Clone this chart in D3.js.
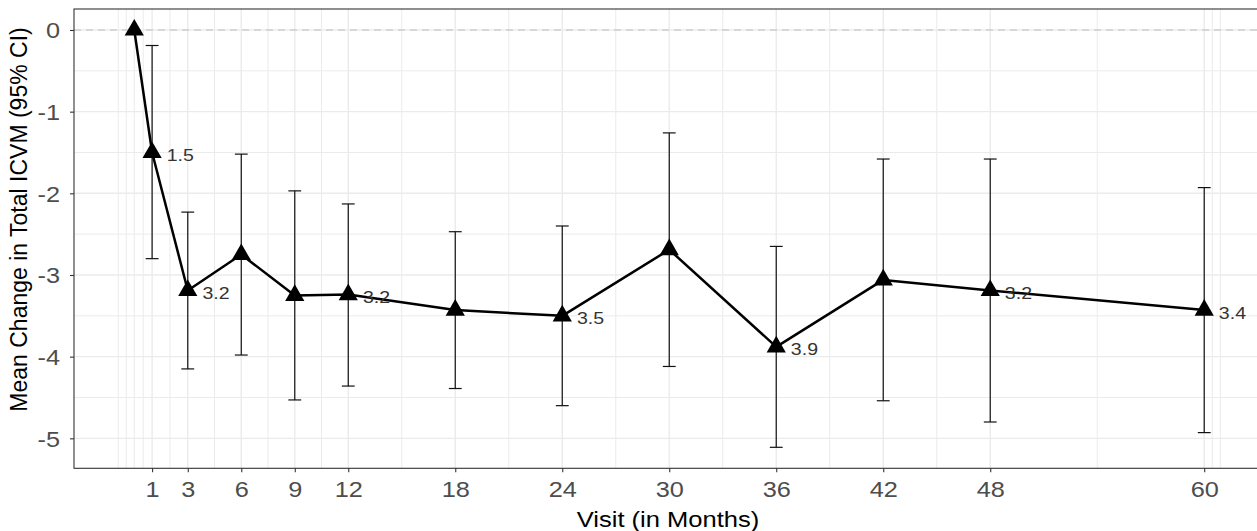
<!DOCTYPE html>
<html>
<head>
<meta charset="utf-8">
<script src="https://cdn.jsdelivr.net/npm/d3@7"></script>
<style>
  html, body { margin: 0; padding: 0; background: #fff; }
  svg { display: block; }
  text { font-family: "Liberation Sans", Arial, sans-serif; }
</style>
</head>
<body>
<svg id="chart" width="1257" height="531"></svg>
<script>
// ---- data ----
const months = [0, 1, 3, 6, 9, 12, 18, 24, 30, 36, 42, 48, 60];
const means  = [0, -1.50, -3.19, -2.75, -3.25, -3.24, -3.43, -3.50, -2.69, -3.88, -3.06, -3.19, -3.43];
const lower  = [0, -2.80, -4.15, -3.98, -4.53, -4.36, -4.39, -4.60, -4.12, -5.11, -4.54, -4.80, -4.93];
const upper  = [0, -0.19, -2.23, -1.52, -1.97, -2.13, -2.47, -2.40, -1.26, -2.65, -1.58, -1.58, -1.93];
const labels = ["", "1.5", "3.2", "", "", "3.2", "", "3.5", "", "3.9", "", "3.2", "3.4"];

const xTicks = [1, 3, 6, 9, 12, 18, 24, 30, 36, 42, 48, 60];
const xMinor = [-0.9, -0.45, 0, 0.5, 2, 4.5, 7.5, 10.5, 15, 21, 27, 33, 39, 45, 54, 60.45, 60.9];
const yTicks = [0, -1, -2, -3, -4, -5];
const yMinor = [-0.5, -1.5, -2.5, -3.5, -4.5];
const xTitle = "Visit (in Months)";
const yTitle = "Mean Change in Total ICVM (95% CI)";

const data = months.map((m, i) => ({ m, mean: means[i], lo: lower[i], hi: upper[i], label: labels[i] }));

// ---- layout ----
const panel = { left: 74, top: 9, right: 1262, bottom: 468.3 };
const svg = d3.select("#chart");
const stretch = 1.15;          // horizontal glyph widening seen in reference text
const capHalf = 0.36;          // error bar cap half-width (months)
const labelNudge = 0.82;       // label x offset (months)

const x = d3.scaleLinear().domain([-3.38, 63.24]).range([panel.left, panel.right]);
const y = d3.scaleLinear().domain([-5.367, 0.257]).range([panel.bottom, panel.top]);

svg.append("rect")
  .attr("x", panel.left).attr("y", panel.top)
  .attr("width", panel.right - panel.left).attr("height", panel.bottom - panel.top)
  .attr("fill", "#fff");

const grid = svg.append("g");
grid.selectAll("line.xmin").data(xMinor).join("line")
  .attr("class", "xmin")
  .attr("x1", d => x(d)).attr("x2", d => x(d))
  .attr("y1", panel.top).attr("y2", panel.bottom)
  .attr("stroke", "#EBEBEB").attr("stroke-width", 1);
grid.selectAll("line.ymin").data(yMinor).join("line")
  .attr("class", "ymin")
  .attr("x1", panel.left).attr("x2", panel.right)
  .attr("y1", d => y(d)).attr("y2", d => y(d))
  .attr("stroke", "#EBEBEB").attr("stroke-width", 1);
grid.selectAll("line.xmaj").data(xTicks).join("line")
  .attr("class", "xmaj")
  .attr("x1", d => x(d)).attr("x2", d => x(d))
  .attr("y1", panel.top).attr("y2", panel.bottom)
  .attr("stroke", "#EBEBEB").attr("stroke-width", 1.4);
grid.selectAll("line.ymaj").data(yTicks).join("line")
  .attr("class", "ymaj")
  .attr("x1", panel.left).attr("x2", panel.right)
  .attr("y1", d => y(d)).attr("y2", d => y(d))
  .attr("stroke", "#EBEBEB").attr("stroke-width", 1.4);

svg.append("line")
  .attr("x1", panel.left).attr("x2", panel.right)
  .attr("y1", y(0)).attr("y2", y(0))
  .attr("stroke", "#BDBDBD").attr("stroke-width", 1)
  .attr("stroke-dasharray", "7,5");

const eb = svg.append("g").attr("stroke", "#111").attr("stroke-width", 1.2).attr("fill", "none");
const ebData = data.filter(d => d.lo !== d.hi);
eb.selectAll("line.v").data(ebData).join("line")
  .attr("class", "v")
  .attr("x1", d => x(d.m)).attr("x2", d => x(d.m))
  .attr("y1", d => y(d.hi)).attr("y2", d => y(d.lo));
eb.selectAll("line.t").data(ebData).join("line")
  .attr("class", "t")
  .attr("x1", d => x(d.m - capHalf)).attr("x2", d => x(d.m + capHalf))
  .attr("y1", d => y(d.hi)).attr("y2", d => y(d.hi));
eb.selectAll("line.b").data(ebData).join("line")
  .attr("class", "b")
  .attr("x1", d => x(d.m - capHalf)).attr("x2", d => x(d.m + capHalf))
  .attr("y1", d => y(d.lo)).attr("y2", d => y(d.lo));

svg.append("path")
  .datum(data)
  .attr("fill", "none").attr("stroke", "#000").attr("stroke-width", 2.5)
  .attr("stroke-linejoin", "round")
  .attr("d", d3.line().x(d => x(d.m)).y(d => y(d.mean)));

svg.append("g").selectAll("path").data(data).join("path")
  .attr("transform", d => `translate(${x(d.m)},${y(d.mean)})`)
  .attr("d", d3.symbol().type(d3.symbolTriangle).size(160))
  .attr("fill", "#000");

svg.append("g").selectAll("text").data(data.filter(d => d.label)).join("text")
  .attr("transform", d => `translate(${x(d.m + labelNudge)},${y(d.mean) + 8.5}) scale(${stretch},1)`)
  .attr("font-size", 17).attr("fill", "#333")
  .text(d => d.label);

svg.append("rect")
  .attr("x", panel.left).attr("y", panel.top)
  .attr("width", panel.right - panel.left).attr("height", panel.bottom - panel.top)
  .attr("fill", "none").attr("stroke", "#333").attr("stroke-width", 1.1);

const xAxis = svg.append("g")
  .attr("transform", `translate(0,${panel.bottom})`)
  .call(d3.axisBottom(x).tickValues(xTicks).tickSize(4).tickSizeOuter(0).tickFormat(d3.format("d")));
xAxis.select(".domain").remove();
xAxis.selectAll(".tick line").attr("stroke", "#333").attr("stroke-width", 1.1);
xAxis.selectAll(".tick text")
  .attr("y", null).attr("dy", null)
  .attr("transform", `translate(0,${497 - panel.bottom}) scale(${stretch},1)`)
  .attr("font-size", 22).attr("fill", "#4D4D4D")
  .attr("font-family", '"Liberation Sans", Arial, sans-serif');

const yAxis = svg.append("g")
  .attr("transform", `translate(${panel.left},0)`)
  .call(d3.axisLeft(y).tickValues(yTicks).tickSize(4).tickSizeOuter(0).tickFormat(d3.format("d")));
yAxis.select(".domain").remove();
yAxis.selectAll(".tick line").attr("stroke", "#333").attr("stroke-width", 1.1);
yAxis.selectAll(".tick text")
  .attr("x", null).attr("dy", null)
  .attr("transform", `translate(${60 - panel.left},7.9) scale(${stretch},1)`)
  .attr("text-anchor", "end")
  .attr("font-size", 22).attr("fill", "#4D4D4D")
  .attr("font-family", '"Liberation Sans", Arial, sans-serif')
  .text(d => d === 0 ? "0" : d3.format("d")(d).replace("\u2212", "-"));

svg.append("text")
  .attr("transform", `translate(${(panel.left + panel.right) / 2},526.5) scale(${stretch},1)`)
  .attr("text-anchor", "middle").attr("font-size", 22.2).attr("fill", "#000")
  .text(xTitle);

svg.append("text")
  .attr("transform", `translate(26.7,219.5) rotate(-90)`)
  .attr("text-anchor", "middle").attr("font-size", 23).attr("fill", "#000")
  .text(yTitle);
</script>
</body>
</html>
